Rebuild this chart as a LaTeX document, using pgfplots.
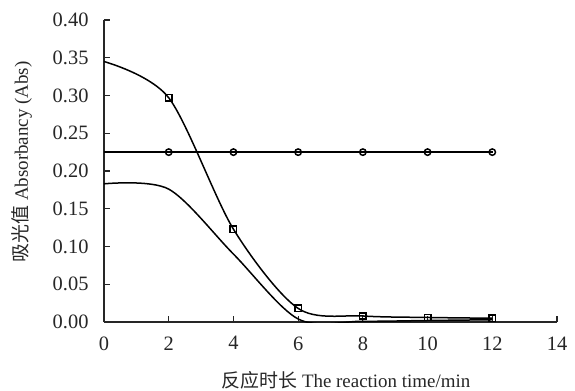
\documentclass[border=0pt]{standalone}
\usepackage{fontspec}
\setmainfont{Liberation Serif}
\newfontfamily\cjk{Noto Sans CJK SC}
\usepackage{pgfplots}
\pgfplotsset{compat=1.18}
\begin{document}
\begin{tikzpicture}
\useasboundingbox (-104bp,-69bp) rectangle (471bp,322bp);
\begin{axis}[
  at={(0,0)}, anchor=south west,
  scale only axis, width=453bp, height=302bp,
  xmin=0, xmax=14, ymin=0, ymax=0.4,
  xtick={0,2,4,6,8,10,12,14},
  ytick={0,0.05,0.1,0.15,0.2,0.25,0.3,0.35,0.4},
  axis x line=bottom, axis y line=left,
  axis line style={-, line width=1.2bp, black!85},
  tick align=inside, major tick length=6bp,
  tick style={line width=1.2bp, black!85},
  /pgf/number format/assume math mode=true,
  yticklabel style={/pgf/number format/fixed, /pgf/number format/fixed zerofill, /pgf/number format/precision=2, xshift=-12bp},
  ticklabel style={font=\fontsize{20.5}{22}\selectfont, text=black!85},
  xticklabel style={yshift=-11bp},
  every axis x label/.style={at={(axis description cs:0.534,-0.192)}, anchor=center},
  every axis y label/.style={at={(axis description cs:-0.181,0.53)}, anchor=center, rotate=90},
  label style={font=\fontsize{19}{22}\selectfont, text=black!85},
  xlabel={{\cjk 反应时长} The reaction time/min},
  ylabel={{\cjk 吸光值} Absorbancy (Abs)},
  every axis plot/.append style={line width=1.5bp, black, smooth, tension=0.5},
]
\addplot[mark=square, mark size=3.2bp, mark options={line width=1.5bp, solid}, mark indices={2,3,4,5,6,7}]
  coordinates {(0,0.345) (2,0.297) (4,0.123) (6,0.018) (8,0.008) (10,0.006) (12,0.005)};
\addplot[mark=o, mark size=3.2bp, mark options={line width=1.5bp, solid}, mark indices={2,3,4,5,6,7}]
  coordinates {(0,0.225) (2,0.225) (4,0.225) (6,0.225) (8,0.225) (10,0.225) (12,0.225)};
\addplot[no marks]
  coordinates {(0,0.183) (2,0.176) (4,0.090) (6,0.004) (8,0.001) (10,0.002) (12,0.003)};
\end{axis}
\end{tikzpicture}
\end{document}
